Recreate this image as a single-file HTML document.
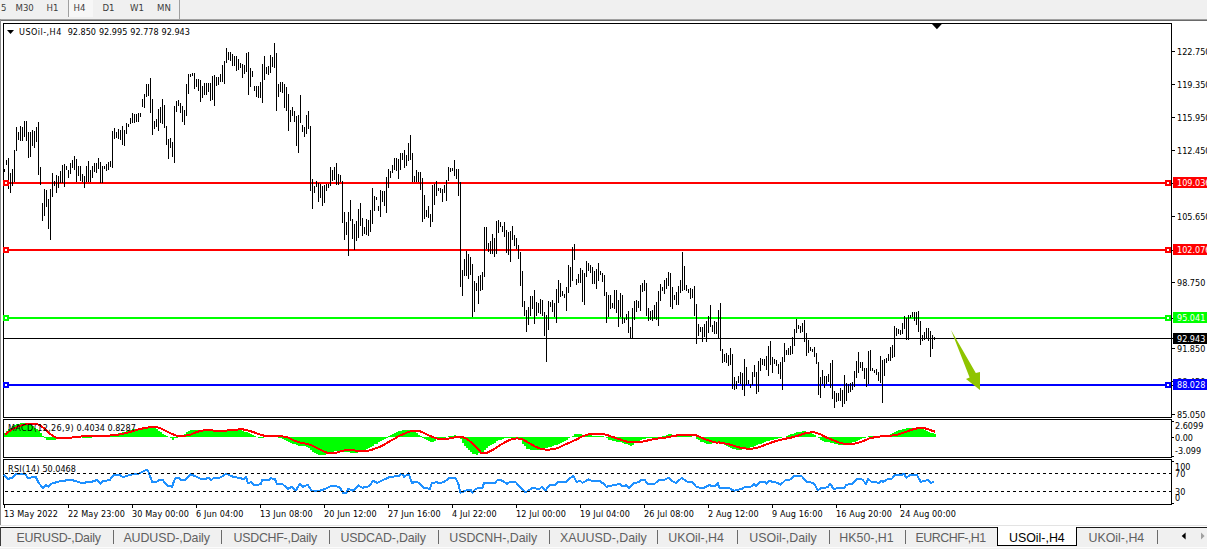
<!DOCTYPE html><html><head><meta charset="utf-8"><title>USOil-,H4</title><style>
html,body{margin:0;padding:0;background:#fff;}
body{width:1207px;height:549px;position:relative;overflow:hidden;font-family:"Liberation Sans",sans-serif;}
#tb{position:absolute;left:0;top:0;width:1207px;height:19px;background:#f0f0f0;}
.tbt{position:absolute;top:1px;font-family:"DejaVu Sans Condensed","DejaVu Sans","Liberation Sans",sans-serif;font-stretch:condensed;font-size:9.5px;line-height:13px;color:#3c3c3c;white-space:nowrap;}
#l19{position:absolute;left:0;top:19px;width:1207px;height:1px;background:#a0a0a0;}
#l20{position:absolute;left:0;top:20px;width:1207px;height:1px;background:#696969;}
#lv{position:absolute;left:0;top:19px;width:1px;height:507px;background:#8c8c8c;}
svg{position:absolute;left:0;top:0;}
.t{position:absolute;font-family:"DejaVu Sans Condensed","DejaVu Sans","Liberation Sans",sans-serif;font-stretch:condensed;font-size:9px;line-height:11px;color:#000;white-space:nowrap;}
.w{color:#fff;}
#tabs{position:absolute;left:0;top:527px;width:1207px;height:22px;background:#f0f0f0;}
#tabline{position:absolute;left:0;top:527px;width:1207px;height:1px;background:#1a1a1a;}
#l525{position:absolute;left:0;top:525px;width:1207px;height:1px;background:#e3e3e3;}
.tab{position:absolute;top:530.6px;font-size:12.4px;line-height:14px;color:#606060;white-space:nowrap;}
.sep{position:absolute;top:530px;width:1px;height:14px;background:#6a6a6a;}
#act{position:absolute;left:997px;top:527px;width:78px;height:18px;background:#fff;border:1px solid #000;border-top:none;}
</style></head><body>
<div id="tb"></div>
<div style="position:absolute;left:68px;top:0;width:1px;height:17px;background:#a0a0a0"></div>
<div style="position:absolute;left:69px;top:0;width:24px;height:17px;background:#f7f7f7"></div>
<div style="position:absolute;left:179px;top:0;width:1px;height:19px;background:#a0a0a0"></div>
<div class="tbt" style="left:1px">5</div>
<div class="tbt" style="left:15.5px">M30</div>
<div class="tbt" style="left:46.5px">H1</div>
<div class="tbt" style="left:73.5px">H4</div>
<div class="tbt" style="left:102.5px">D1</div>
<div class="tbt" style="left:130px">W1</div>
<div class="tbt" style="left:157px">MN</div>
<div id="l19"></div><div id="l20"></div><div id="lv"></div>
<svg width="1207" height="549" viewBox="0 0 1207 549"><g shape-rendering="crispEdges">
<rect x="4" y="182" width="1167" height="2" fill="#ff0000"/>
<rect x="4" y="249" width="1167" height="2" fill="#ff0000"/>
<rect x="4" y="317" width="1167" height="2" fill="#00ff00"/>
<rect x="4" y="384" width="1167" height="2" fill="#0000ff"/>
<rect x="4" y="338" width="1167" height="1" fill="#000000"/>
<path d="M4 169v3h1v-3zM6 160v5h1v-5zM8 158v31h1v-31zM10 173v20h1v-20zM12 169v17h1v-17zM14 150v32h1v-32zM16 127v24h1v-24zM18 132v8h1v-8zM20 126v15h1v-15zM22 127v14h1v-14zM24 121v16h1v-16zM26 121v20h1v-20zM28 132v26h1v-26zM30 132v25h1v-25zM32 130v16h1v-16zM34 131v17h1v-17zM36 127v15h1v-15zM38 122v53h1v-53zM40 167v18h1v-18zM42 203v18h1v-18zM44 189v27h1v-27zM46 190v17h1v-17zM48 199v30h1v-30zM50 189v51h1v-51zM52 173v24h1v-24zM54 181v5h1v-5zM56 175v18h1v-18zM58 176v12h1v-12zM60 171v12h1v-12zM62 165v18h1v-18zM64 164v23h1v-23zM66 166v4h1v-4zM68 170v8h1v-8zM70 163v11h1v-11zM72 160v8h1v-8zM74 156v14h1v-14zM76 159v23h1v-23zM78 166v10h1v-10zM80 166v15h1v-15zM82 174v8h1v-8zM84 176v12h1v-12zM86 166v16h1v-16zM88 161v21h1v-21zM90 170v12h1v-12zM92 166v12h1v-12zM94 163v9h1v-9zM96 163v10h1v-10zM98 158v11h1v-11zM100 162v21h1v-21zM102 166v17h1v-17zM104 166v3h1v-3zM106 164v7h1v-7zM108 162v8h1v-8zM110 161v6h1v-6zM112 131v37h1v-37zM114 128v11h1v-11zM116 132v6h1v-6zM118 129v10h1v-10zM120 130v10h1v-10zM122 126v19h1v-19zM124 130v16h1v-16zM126 123v11h1v-11zM128 124v3h1v-3zM130 118v6h1v-6zM132 113v10h1v-10zM134 114v9h1v-9zM136 114v8h1v-8zM138 113v9h1v-9zM140 113v4h1v-4zM142 99v8h1v-8zM144 94v14h1v-14zM146 84v13h1v-13zM148 84v12h1v-12zM150 78v35h1v-35zM152 99v36h1v-36zM154 121v8h1v-8zM156 119v8h1v-8zM158 109v22h1v-22zM160 107v16h1v-16zM162 99v25h1v-25zM164 105v23h1v-23zM166 126v19h1v-19zM168 139v20h1v-20zM170 138v10h1v-10zM172 142v15h1v-15zM174 106v57h1v-57zM176 101v11h1v-11zM178 100v6h1v-6zM180 103v10h1v-10zM182 106v16h1v-16zM184 110v15h1v-15zM186 84v32h1v-32zM188 74v20h1v-20zM190 74v3h1v-3zM192 73v3h1v-3zM194 73v16h1v-16zM196 79v8h1v-8zM198 79v12h1v-12zM200 80v22h1v-22zM202 86v12h1v-12zM204 83v12h1v-12zM206 83v12h1v-12zM208 83v9h1v-9zM210 83v18h1v-18zM212 76v24h1v-24zM214 75v31h1v-31zM216 77v9h1v-9zM218 77v8h1v-8zM220 74v8h1v-8zM222 65v17h1v-17zM224 61v23h1v-23zM226 48v15h1v-15zM228 52v8h1v-8zM230 52v9h1v-9zM232 54v12h1v-12zM234 56v10h1v-10zM236 56v15h1v-15zM238 59v11h1v-11zM240 63v5h1v-5zM242 64v14h1v-14zM244 65v9h1v-9zM246 53v19h1v-19zM248 52v43h1v-43zM250 68v19h1v-19zM252 71v6h1v-6zM254 86v5h1v-5zM256 86v11h1v-11zM258 86v12h1v-12zM260 82v16h1v-16zM262 64v39h1v-39zM264 56v24h1v-24zM266 67v7h1v-7zM268 66v9h1v-9zM270 55v18h1v-18zM272 57v10h1v-10zM274 43v25h1v-25zM276 53v58h1v-58zM278 84v13h1v-13zM280 82v10h1v-10zM282 82v11h1v-11zM284 84v24h1v-24zM286 87v24h1v-24zM288 94v37h1v-37zM290 110v12h1v-12zM292 107v9h1v-9zM294 111v11h1v-11zM296 116v30h1v-30zM298 115v38h1v-38zM300 95v28h1v-28zM302 125v7h1v-7zM304 127v10h1v-10zM306 115v19h1v-19zM308 111v18h1v-18zM310 126v65h1v-65zM312 179v30h1v-30zM314 186v7h1v-7zM316 181v6h1v-6zM318 183v19h1v-19zM320 184v14h1v-14zM322 186v20h1v-20zM324 185v18h1v-18zM326 184v7h1v-7zM328 184v4h1v-4zM330 167v19h1v-19zM332 170v11h1v-11zM334 167v13h1v-13zM336 163v22h1v-22zM338 174v11h1v-11zM340 175v7h1v-7zM342 181v42h1v-42zM344 212v28h1v-28zM346 222v13h1v-13zM348 212v44h1v-44zM350 200v21h1v-21zM352 219v20h1v-20zM354 224v26h1v-26zM356 221v20h1v-20zM358 209v29h1v-29zM360 203v23h1v-23zM362 218v18h1v-18zM364 227v7h1v-7zM366 219v16h1v-16zM368 220v16h1v-16zM370 210v22h1v-22zM372 188v36h1v-36zM374 196v15h1v-15zM376 197v3h1v-3zM378 206v5h1v-5zM380 190v27h1v-27zM382 191v11h1v-11zM384 191v15h1v-15zM386 177v36h1v-36zM388 169v19h1v-19zM390 171v7h1v-7zM392 165v8h1v-8zM394 158v12h1v-12zM396 158v13h1v-13zM398 159v20h1v-20zM400 153v17h1v-17zM402 153v7h1v-7zM404 150v18h1v-18zM406 155v11h1v-11zM408 143v18h1v-18zM410 135v25h1v-25zM412 153v29h1v-29zM414 176v6h1v-6zM416 170v12h1v-12zM418 172v10h1v-10zM420 172v18h1v-18zM422 178v44h1v-44zM424 195v24h1v-24zM426 210v7h1v-7zM428 206v12h1v-12zM430 214v13h1v-13zM432 185v37h1v-37zM434 184v21h1v-21zM436 181v15h1v-15zM438 188v3h1v-3zM440 188v5h1v-5zM442 189v13h1v-13zM444 185v8h1v-8zM446 180v21h1v-21zM448 167v14h1v-14zM450 168v4h1v-4zM452 168v3h1v-3zM454 160v16h1v-16zM456 169v10h1v-10zM458 169v27h1v-27zM460 182v105h1v-105zM462 270v26h1v-26zM464 259v17h1v-17zM466 251v25h1v-25zM468 254v25h1v-25zM470 257v18h1v-18zM472 264v53h1v-53zM474 281v31h1v-31zM476 283v8h1v-8zM478 276v28h1v-28zM480 275v16h1v-16zM482 272v18h1v-18zM484 227v50h1v-50zM486 227v22h1v-22zM488 243v9h1v-9zM490 241v13h1v-13zM492 234v20h1v-20zM494 238v19h1v-19zM496 221v33h1v-33zM498 220v13h1v-13zM500 222v5h1v-5zM502 226v6h1v-6zM504 222v15h1v-15zM506 230v23h1v-23zM508 232v23h1v-23zM510 231v31h1v-31zM512 226v14h1v-14zM514 235v11h1v-11zM516 238v11h1v-11zM518 245v14h1v-14zM520 252v34h1v-34zM522 271v36h1v-36zM524 301v15h1v-15zM526 310v22h1v-22zM528 307v18h1v-18zM530 296v20h1v-20zM532 296v13h1v-13zM534 290v34h1v-34zM536 302v14h1v-14zM538 303v10h1v-10zM540 299v15h1v-15zM542 300v16h1v-16zM544 312v24h1v-24zM546 315v47h1v-47zM548 301v29h1v-29zM550 302v5h1v-5zM552 300v12h1v-12zM554 303v14h1v-14zM556 289v34h1v-34zM558 280v23h1v-23zM560 283v14h1v-14zM562 291v5h1v-5zM564 294v4h1v-4zM566 287v24h1v-24zM568 265v28h1v-28zM570 267v20h1v-20zM572 247v34h1v-34zM574 244v16h1v-16zM576 279v6h1v-6zM578 274v9h1v-9zM580 268v15h1v-15zM582 270v32h1v-32zM584 273v32h1v-32zM586 261v16h1v-16zM588 263v8h1v-8zM590 265v8h1v-8zM592 267v17h1v-17zM594 271v13h1v-13zM596 269v20h1v-20zM598 263v18h1v-18zM600 271v4h1v-4zM602 273v9h1v-9zM604 275v21h1v-21zM606 292v31h1v-31zM608 295v22h1v-22zM610 295v14h1v-14zM612 303v5h1v-5zM614 290v19h1v-19zM616 290v23h1v-23zM618 300v27h1v-27zM620 293v24h1v-24zM622 295v29h1v-29zM624 318v5h1v-5zM626 314v6h1v-6zM628 311v22h1v-22zM630 327v11h1v-11zM632 308v30h1v-30zM634 301v19h1v-19zM636 300v12h1v-12zM638 301v7h1v-7zM640 285v26h1v-26zM642 283v9h1v-9zM644 280v11h1v-11zM646 283v33h1v-33zM648 308v13h1v-13zM650 311v9h1v-9zM652 310v11h1v-11zM654 305v14h1v-14zM656 302v18h1v-18zM658 291v35h1v-35zM660 284v17h1v-17zM662 287v4h1v-4zM664 280v14h1v-14zM666 278v11h1v-11zM668 272v14h1v-14zM670 273v34h1v-34zM672 287v22h1v-22zM674 295v5h1v-5zM676 292v13h1v-13zM678 286v19h1v-19zM680 280v13h1v-13zM682 252v39h1v-39zM684 266v24h1v-24zM686 285v6h1v-6zM688 289v4h1v-4zM690 288v11h1v-11zM692 289v9h1v-9zM694 286v30h1v-30zM696 304v40h1v-40zM698 324v12h1v-12zM700 327v5h1v-5zM702 327v15h1v-15zM704 324v13h1v-13zM706 321v21h1v-21zM708 316v17h1v-17zM710 305v22h1v-22zM712 325v7h1v-7zM714 321v13h1v-13zM716 322v12h1v-12zM718 310v28h1v-28zM720 303v48h1v-48zM722 349v14h1v-14zM724 354v8h1v-8zM726 353v10h1v-10zM728 355v11h1v-11zM730 348v17h1v-17zM732 354v35h1v-35zM734 377v13h1v-13zM736 381v8h1v-8zM738 376v7h1v-7zM740 372v12h1v-12zM742 373v17h1v-17zM744 359v37h1v-37zM746 367v18h1v-18zM748 380v4h1v-4zM750 384v4h1v-4zM752 372v13h1v-13zM754 365v12h1v-12zM756 372v22h1v-22zM758 361v31h1v-31zM760 358v13h1v-13zM762 359v6h1v-6zM764 359v7h1v-7zM766 356v14h1v-14zM768 346v30h1v-30zM770 341v24h1v-24zM772 357v16h1v-16zM774 359v5h1v-5zM776 360v6h1v-6zM778 364v10h1v-10zM780 362v17h1v-17zM782 357v33h1v-33zM784 343v19h1v-19zM786 350v5h1v-5zM788 348v7h1v-7zM790 346v9h1v-9zM792 337v17h1v-17zM794 329v17h1v-17zM796 319v14h1v-14zM798 325v4h1v-4zM800 326v7h1v-7zM802 323v9h1v-9zM804 320v22h1v-22zM806 333v23h1v-23zM808 340v13h1v-13zM810 347v4h1v-4zM812 349v3h1v-3zM814 347v10h1v-10zM816 353v11h1v-11zM818 362v33h1v-33zM820 377v21h1v-21zM822 370v14h1v-14zM824 376v12h1v-12zM826 376v8h1v-8zM828 374v8h1v-8zM830 363v25h1v-25zM832 360v39h1v-39zM834 391v17h1v-17zM836 393v9h1v-9zM838 393v8h1v-8zM840 388v13h1v-13zM842 390v17h1v-17zM844 375v29h1v-29zM846 383v18h1v-18zM848 384v9h1v-9zM850 383v9h1v-9zM852 382v8h1v-8zM854 371v16h1v-16zM856 361v17h1v-17zM858 352v21h1v-21zM860 362v6h1v-6zM862 362v9h1v-9zM864 368v11h1v-11zM866 368v19h1v-19zM868 351v33h1v-33zM870 350v21h1v-21zM872 368v3h1v-3zM874 370v3h1v-3zM876 369v6h1v-6zM878 372v9h1v-9zM880 356v27h1v-27zM882 360v43h1v-43zM884 359v17h1v-17zM886 358v5h1v-5zM888 354v7h1v-7zM890 347v14h1v-14zM892 345v13h1v-13zM894 326v31h1v-31zM896 328v8h1v-8zM898 329v5h1v-5zM900 330v5h1v-5zM902 323v11h1v-11zM904 316v13h1v-13zM906 318v22h1v-22zM908 315v25h1v-25zM910 315v3h1v-3zM912 312v5h1v-5zM914 312v9h1v-9zM916 312v13h1v-13zM918 311v21h1v-21zM920 321v24h1v-24zM922 335v6h1v-6zM924 332v8h1v-8zM926 328v11h1v-11zM928 328v13h1v-13zM930 331v26h1v-26zM932 335v14h1v-14zM934 337v3h1v-3z" fill="#000"/>
<rect x="3" y="23" width="1169" height="1" fill="#000"/>
<rect x="3" y="417" width="1169" height="1" fill="#000"/>
<rect x="3" y="23" width="1" height="395" fill="#000"/>
<rect x="1171" y="23" width="1" height="395" fill="#000"/>
<rect x="3" y="419" width="1169" height="1" fill="#000"/>
<rect x="3" y="457" width="1169" height="1" fill="#000"/>
<rect x="3" y="419" width="1" height="39" fill="#000"/>
<rect x="1171" y="419" width="1" height="39" fill="#000"/>
<rect x="3" y="459" width="1169" height="1" fill="#000"/>
<rect x="3" y="504" width="1169" height="1" fill="#000"/>
<rect x="3" y="459" width="1" height="46" fill="#000"/>
<rect x="1171" y="459" width="1" height="46" fill="#000"/>
<rect x="1172" y="51" width="3" height="1" fill="#000"/>
<rect x="1172" y="84" width="3" height="1" fill="#000"/>
<rect x="1172" y="117" width="3" height="1" fill="#000"/>
<rect x="1172" y="150" width="3" height="1" fill="#000"/>
<rect x="1172" y="216" width="3" height="1" fill="#000"/>
<rect x="1172" y="282" width="3" height="1" fill="#000"/>
<rect x="1172" y="348" width="3" height="1" fill="#000"/>
<rect x="1172" y="381" width="3" height="1" fill="#000"/>
<rect x="1172" y="414" width="3" height="1" fill="#000"/>
<rect x="1172" y="421" width="2" height="1" fill="#000"/>
<rect x="1172" y="437" width="2" height="1" fill="#000"/>
<rect x="1172" y="456" width="2" height="1" fill="#000"/>
<rect x="1172" y="461" width="2" height="1" fill="#000"/>
<rect x="1172" y="503" width="2" height="1" fill="#000"/>
<rect x="1172" y="183" width="1" height="1" fill="#000"/>
<rect x="1172" y="250" width="1" height="1" fill="#000"/>
<rect x="1172" y="318" width="1" height="1" fill="#000"/>
<rect x="1172" y="338" width="1" height="1" fill="#000"/>
<rect x="1172" y="385" width="1" height="1" fill="#000"/>
<rect x="4" y="505" width="1" height="3" fill="#000"/>
<rect x="68" y="505" width="1" height="3" fill="#000"/>
<rect x="132" y="505" width="1" height="3" fill="#000"/>
<rect x="196" y="505" width="1" height="3" fill="#000"/>
<rect x="260" y="505" width="1" height="3" fill="#000"/>
<rect x="324" y="505" width="1" height="3" fill="#000"/>
<rect x="388" y="505" width="1" height="3" fill="#000"/>
<rect x="452" y="505" width="1" height="3" fill="#000"/>
<rect x="516" y="505" width="1" height="3" fill="#000"/>
<rect x="580" y="505" width="1" height="3" fill="#000"/>
<rect x="644" y="505" width="1" height="3" fill="#000"/>
<rect x="708" y="505" width="1" height="3" fill="#000"/>
<rect x="772" y="505" width="1" height="3" fill="#000"/>
<rect x="836" y="505" width="1" height="3" fill="#000"/>
<rect x="900" y="505" width="1" height="3" fill="#000"/>
<rect x="3" y="180" width="6" height="6" fill="#ff0000"/><rect x="5" y="182" width="2" height="2" fill="#fff"/>
<rect x="1165" y="180" width="6" height="6" fill="#ff0000"/><rect x="1167" y="182" width="2" height="2" fill="#fff"/>
<rect x="3" y="247" width="6" height="6" fill="#ff0000"/><rect x="5" y="249" width="2" height="2" fill="#fff"/>
<rect x="1165" y="247" width="6" height="6" fill="#ff0000"/><rect x="1167" y="249" width="2" height="2" fill="#fff"/>
<rect x="3" y="315" width="6" height="6" fill="#00ff00"/><rect x="5" y="317" width="2" height="2" fill="#fff"/>
<rect x="1165" y="315" width="6" height="6" fill="#00ff00"/><rect x="1167" y="317" width="2" height="2" fill="#fff"/>
<rect x="3" y="382" width="6" height="6" fill="#0000ff"/><rect x="5" y="384" width="2" height="2" fill="#fff"/>
<rect x="1165" y="382" width="6" height="6" fill="#0000ff"/><rect x="1167" y="384" width="2" height="2" fill="#fff"/>
<path d="M4 433h2v4h-2zM6 431h2v6h-2zM8 429h2v8h-2zM10 428h2v9h-2zM12 426h2v11h-2zM14 425h2v12h-2zM16 424h2v13h-2zM18 424h2v13h-2zM20 423h2v14h-2zM22 423h2v14h-2zM24 423h2v14h-2zM26 424h2v13h-2zM28 424h2v13h-2zM30 425h2v12h-2zM32 426h2v11h-2zM34 428h2v9h-2zM36 429h2v8h-2zM38 431h2v6h-2zM40 433h2v4h-2zM42 436h2v1h-2zM44 437h2v1h-2zM46 437h2v3h-2zM48 437h2v3h-2zM50 437h2v3h-2zM52 437h2v3h-2zM54 437h2v3h-2zM56 437h2v2h-2zM58 437h2v1h-2zM60 437h2v1h-2zM62 437h2v1h-2zM64 437h2v1h-2zM82 437h2v1h-2zM84 437h2v1h-2zM86 437h2v1h-2zM88 437h2v1h-2zM90 437h2v1h-2zM98 436h2v1h-2zM100 436h2v1h-2zM102 436h2v1h-2zM104 436h2v1h-2zM106 436h2v1h-2zM108 435h2v2h-2zM110 435h2v2h-2zM112 435h2v2h-2zM114 434h2v3h-2zM116 434h2v3h-2zM118 433h2v4h-2zM120 433h2v4h-2zM122 432h2v5h-2zM124 432h2v5h-2zM126 431h2v6h-2zM128 430h2v7h-2zM130 430h2v7h-2zM132 429h2v8h-2zM134 429h2v8h-2zM136 429h2v8h-2zM138 428h2v9h-2zM140 428h2v9h-2zM142 427h2v10h-2zM144 427h2v10h-2zM146 427h2v10h-2zM148 426h2v11h-2zM150 427h2v10h-2zM152 427h2v10h-2zM154 428h2v9h-2zM156 429h2v8h-2zM158 431h2v6h-2zM160 432h2v5h-2zM162 434h2v3h-2zM164 435h2v2h-2zM166 436h2v1h-2zM170 437h2v1h-2zM172 437h2v3h-2zM174 437h2v1h-2zM176 437h2v1h-2zM180 436h2v1h-2zM182 435h2v2h-2zM184 434h2v3h-2zM186 432h2v5h-2zM188 431h2v6h-2zM190 430h2v7h-2zM192 430h2v7h-2zM194 430h2v7h-2zM196 430h2v7h-2zM198 430h2v7h-2zM200 430h2v7h-2zM202 430h2v7h-2zM204 430h2v7h-2zM206 430h2v7h-2zM208 430h2v7h-2zM210 430h2v7h-2zM212 430h2v7h-2zM214 430h2v7h-2zM216 430h2v7h-2zM218 430h2v7h-2zM220 430h2v7h-2zM222 430h2v7h-2zM224 430h2v7h-2zM226 430h2v7h-2zM228 430h2v7h-2zM230 430h2v7h-2zM232 430h2v7h-2zM234 429h2v8h-2zM236 429h2v8h-2zM238 429h2v8h-2zM240 430h2v7h-2zM242 431h2v6h-2zM244 432h2v5h-2zM246 432h2v5h-2zM248 433h2v4h-2zM250 434h2v3h-2zM252 435h2v2h-2zM254 436h2v1h-2zM258 437h2v1h-2zM260 437h2v1h-2zM262 437h2v1h-2zM274 435h2v2h-2zM278 437h2v1h-2zM280 437h2v1h-2zM282 437h2v2h-2zM284 437h2v3h-2zM286 437h2v4h-2zM288 437h2v5h-2zM290 437h2v6h-2zM292 437h2v7h-2zM294 437h2v7h-2zM296 437h2v8h-2zM298 437h2v9h-2zM300 437h2v9h-2zM302 437h2v9h-2zM304 437h2v9h-2zM306 437h2v10h-2zM308 437h2v11h-2zM310 437h2v13h-2zM312 437h2v15h-2zM314 437h2v16h-2zM316 437h2v17h-2zM318 437h2v18h-2zM320 437h2v18h-2zM322 437h2v18h-2zM324 437h2v18h-2zM326 437h2v17h-2zM328 437h2v17h-2zM330 437h2v16h-2zM332 437h2v15h-2zM334 437h2v14h-2zM336 437h2v14h-2zM338 437h2v14h-2zM340 437h2v14h-2zM342 437h2v14h-2zM344 437h2v15h-2zM346 437h2v15h-2zM348 437h2v15h-2zM350 437h2v16h-2zM352 437h2v16h-2zM354 437h2v16h-2zM356 437h2v16h-2zM358 437h2v15h-2zM360 437h2v14h-2zM362 437h2v13h-2zM364 437h2v13h-2zM366 437h2v12h-2zM368 437h2v11h-2zM370 437h2v10h-2zM372 437h2v9h-2zM374 437h2v7h-2zM376 437h2v7h-2zM378 437h2v5h-2zM380 437h2v4h-2zM382 437h2v3h-2zM384 437h2v2h-2zM386 437h2v1h-2zM388 436h2v1h-2zM390 435h2v2h-2zM392 434h2v3h-2zM394 433h2v4h-2zM396 432h2v5h-2zM398 431h2v6h-2zM400 431h2v6h-2zM402 430h2v7h-2zM404 430h2v7h-2zM406 430h2v7h-2zM408 430h2v7h-2zM410 430h2v7h-2zM412 430h2v7h-2zM414 432h2v5h-2zM416 433h2v4h-2zM418 435h2v2h-2zM420 436h2v1h-2zM422 437h2v1h-2zM424 437h2v2h-2zM426 437h2v3h-2zM428 437h2v4h-2zM430 437h2v5h-2zM432 437h2v5h-2zM434 437h2v4h-2zM436 437h2v2h-2zM438 437h2v2h-2zM440 437h2v1h-2zM442 437h2v1h-2zM444 437h2v1h-2zM448 436h2v1h-2zM450 436h2v1h-2zM452 436h2v1h-2zM454 435h2v2h-2zM456 436h2v1h-2zM460 437h2v2h-2zM462 437h2v6h-2zM464 437h2v9h-2zM466 437h2v11h-2zM468 437h2v13h-2zM470 437h2v15h-2zM472 437h2v17h-2zM474 437h2v17h-2zM476 437h2v18h-2zM478 437h2v16h-2zM480 437h2v17h-2zM482 437h2v15h-2zM484 437h2v13h-2zM486 437h2v11h-2zM488 437h2v9h-2zM490 437h2v8h-2zM492 437h2v7h-2zM494 437h2v6h-2zM496 437h2v4h-2zM498 437h2v3h-2zM500 437h2v3h-2zM502 437h2v2h-2zM504 437h2v1h-2zM506 437h2v1h-2zM508 437h2v1h-2zM510 437h2v1h-2zM512 437h2v1h-2zM514 437h2v1h-2zM516 437h2v1h-2zM518 437h2v2h-2zM520 437h2v3h-2zM522 437h2v7h-2zM524 437h2v9h-2zM526 437h2v12h-2zM528 437h2v12h-2zM530 437h2v13h-2zM532 437h2v13h-2zM534 437h2v13h-2zM536 437h2v13h-2zM538 437h2v13h-2zM540 437h2v12h-2zM542 437h2v12h-2zM544 437h2v11h-2zM546 437h2v11h-2zM548 437h2v10h-2zM550 437h2v10h-2zM552 437h2v9h-2zM554 437h2v8h-2zM556 437h2v8h-2zM558 437h2v7h-2zM560 437h2v6h-2zM562 437h2v5h-2zM564 437h2v4h-2zM566 437h2v3h-2zM568 437h2v1h-2zM572 436h2v1h-2zM574 434h2v3h-2zM576 434h2v3h-2zM578 434h2v3h-2zM580 434h2v3h-2zM582 435h2v2h-2zM584 435h2v2h-2zM586 435h2v2h-2zM588 435h2v2h-2zM590 435h2v2h-2zM592 436h2v1h-2zM594 436h2v1h-2zM596 436h2v1h-2zM598 436h2v1h-2zM600 436h2v1h-2zM602 436h2v1h-2zM606 437h2v1h-2zM608 437h2v3h-2zM610 437h2v3h-2zM612 437h2v4h-2zM614 437h2v4h-2zM616 437h2v5h-2zM618 437h2v5h-2zM620 437h2v5h-2zM622 437h2v6h-2zM624 437h2v7h-2zM626 437h2v7h-2zM628 437h2v8h-2zM630 437h2v9h-2zM632 437h2v8h-2zM634 437h2v6h-2zM636 437h2v5h-2zM638 437h2v4h-2zM640 437h2v3h-2zM642 437h2v2h-2zM644 437h2v2h-2zM646 437h2v1h-2zM648 437h2v1h-2zM650 437h2v1h-2zM652 437h2v1h-2zM654 437h2v1h-2zM656 437h2v1h-2zM658 437h2v1h-2zM662 436h2v1h-2zM664 436h2v1h-2zM666 435h2v2h-2zM668 434h2v3h-2zM670 434h2v3h-2zM672 435h2v2h-2zM674 435h2v2h-2zM676 435h2v2h-2zM678 435h2v2h-2zM680 436h2v1h-2zM682 436h2v1h-2zM684 436h2v1h-2zM686 436h2v1h-2zM688 436h2v1h-2zM690 436h2v1h-2zM696 437h2v2h-2zM698 437h2v3h-2zM700 437h2v5h-2zM702 437h2v5h-2zM704 437h2v6h-2zM706 437h2v7h-2zM708 437h2v7h-2zM710 437h2v7h-2zM712 437h2v6h-2zM714 437h2v6h-2zM716 437h2v6h-2zM718 437h2v6h-2zM720 437h2v7h-2zM722 437h2v7h-2zM724 437h2v8h-2zM726 437h2v9h-2zM728 437h2v10h-2zM730 437h2v11h-2zM732 437h2v12h-2zM734 437h2v12h-2zM736 437h2v13h-2zM738 437h2v13h-2zM740 437h2v13h-2zM742 437h2v12h-2zM744 437h2v12h-2zM746 437h2v11h-2zM748 437h2v11h-2zM750 437h2v10h-2zM752 437h2v10h-2zM754 437h2v9h-2zM756 437h2v8h-2zM758 437h2v7h-2zM760 437h2v7h-2zM762 437h2v6h-2zM764 437h2v5h-2zM766 437h2v4h-2zM768 437h2v4h-2zM770 437h2v3h-2zM772 437h2v3h-2zM774 437h2v2h-2zM776 437h2v2h-2zM778 437h2v1h-2zM780 437h2v1h-2zM786 436h2v1h-2zM788 435h2v2h-2zM790 434h2v3h-2zM792 434h2v3h-2zM794 433h2v4h-2zM796 432h2v5h-2zM798 432h2v5h-2zM800 432h2v5h-2zM802 431h2v6h-2zM804 431h2v6h-2zM806 432h2v5h-2zM808 432h2v5h-2zM810 433h2v4h-2zM812 434h2v3h-2zM814 435h2v2h-2zM818 437h2v1h-2zM820 437h2v3h-2zM822 437h2v4h-2zM824 437h2v5h-2zM826 437h2v5h-2zM828 437h2v5h-2zM830 437h2v6h-2zM832 437h2v6h-2zM834 437h2v7h-2zM836 437h2v7h-2zM838 437h2v8h-2zM840 437h2v8h-2zM842 437h2v8h-2zM844 437h2v8h-2zM846 437h2v7h-2zM848 437h2v7h-2zM850 437h2v6h-2zM852 437h2v5h-2zM854 437h2v5h-2zM856 437h2v4h-2zM858 437h2v3h-2zM860 437h2v2h-2zM862 437h2v1h-2zM864 437h2v1h-2zM868 436h2v1h-2zM870 436h2v1h-2zM872 436h2v1h-2zM874 436h2v1h-2zM876 436h2v1h-2zM878 436h2v1h-2zM880 436h2v1h-2zM882 436h2v1h-2zM884 436h2v1h-2zM886 435h2v2h-2zM888 435h2v2h-2zM890 434h2v3h-2zM892 433h2v4h-2zM894 432h2v5h-2zM896 431h2v6h-2zM898 430h2v7h-2zM900 430h2v7h-2zM902 429h2v8h-2zM904 429h2v8h-2zM906 428h2v9h-2zM908 428h2v9h-2zM910 428h2v9h-2zM912 428h2v9h-2zM914 428h2v9h-2zM916 428h2v9h-2zM918 428h2v9h-2zM920 429h2v8h-2zM922 429h2v8h-2zM924 430h2v7h-2zM926 431h2v6h-2zM928 432h2v5h-2zM930 433h2v4h-2zM932 433h2v4h-2zM934 434h2v3h-2z" fill="#00ff00"/>
<polyline points="5,434.9 7,433.2 9,431.5 11,430.2 13,428.9 15,427.9 17,426.9 19,426.2 21,425.5 23,425.0 25,424.5 27,424.3 29,424.1 31,424.0 33,424.0 35,424.0 37,424.0 39,424.8 41,425.8 43,427.5 45,429.2 47,431.2 49,433.1 51,434.6 53,436.0 55,437.0 57,437.9 59,438.2 61,438.5 63,438.4 65,438.3 67,438.2 69,438.0 71,437.7 73,437.4 75,437.2 77,436.9 79,436.7 81,436.5 83,436.4 85,436.4 87,436.4 89,436.3 91,436.3 93,436.2 95,436.1 97,436.0 99,436.0 101,435.9 103,435.8 105,435.7 107,435.6 109,435.6 111,435.4 113,435.2 115,434.9 117,434.7 119,434.5 121,434.1 123,433.7 125,433.2 127,432.7 129,432.2 131,431.7 133,431.1 135,430.5 137,429.9 139,429.3 141,428.8 143,428.4 145,428.0 147,427.6 149,427.3 151,427.1 153,426.9 155,426.9 157,427.3 159,427.7 161,428.4 163,429.4 165,430.4 167,431.4 169,432.4 171,433.4 173,434.3 175,435.1 177,435.9 179,435.9 181,435.9 183,435.9 185,435.7 187,435.4 189,435.1 191,434.4 193,433.6 195,432.7 197,432.0 199,431.4 201,430.8 203,430.5 205,430.4 207,430.4 209,430.3 211,430.4 213,430.5 215,430.6 217,430.8 219,430.9 221,430.8 223,430.7 225,430.6 227,430.5 229,430.4 231,430.2 233,430.0 235,429.8 237,429.6 239,429.4 241,428.9 243,429.4 245,429.9 247,430.3 249,430.9 251,431.4 253,431.9 255,432.7 257,433.5 259,434.3 261,434.9 263,435.4 265,435.9 267,435.9 269,435.9 271,435.9 273,435.9 275,435.9 277,435.9 279,436.1 281,436.3 283,436.5 285,436.7 287,437.0 289,438.0 291,439.0 293,440.0 295,440.8 297,441.6 299,442.3 301,442.7 303,443.1 305,443.5 307,444.0 309,444.5 311,445.0 313,446.0 315,447.0 317,448.0 319,449.0 321,450.0 323,451.0 325,451.9 327,452.7 329,453.4 331,453.4 333,453.4 335,453.2 337,452.5 339,451.9 341,451.3 343,450.7 345,450.2 347,449.8 349,449.8 351,449.8 353,450.0 355,450.5 357,451.1 359,451.4 361,451.4 363,451.4 365,451.3 367,450.9 369,450.5 371,450.0 373,449.3 375,448.6 377,447.9 379,447.1 381,446.3 383,445.3 385,444.1 387,442.9 389,441.8 391,440.6 393,439.5 395,438.4 397,437.2 399,436.1 401,435.1 403,434.2 405,433.4 407,432.6 409,431.9 411,431.3 413,430.8 415,430.5 417,430.6 419,431.1 421,431.7 423,432.4 425,433.4 427,434.4 429,435.4 431,436.2 433,437.1 435,437.9 437,438.6 439,438.9 441,438.9 443,438.9 445,438.9 447,438.9 449,438.6 451,438.1 453,437.7 455,437.4 457,437.2 459,437.0 461,437.1 463,437.4 465,437.8 467,439.0 469,440.6 471,442.3 473,444.2 475,446.2 477,448.2 479,450.0 481,452.8 483,452.8 485,452.8 487,452.8 489,451.8 491,450.8 493,449.8 495,448.4 497,447.1 499,445.8 501,444.6 503,443.4 505,442.2 507,441.3 509,440.3 511,439.4 513,439.0 515,438.6 517,438.3 519,438.7 521,439.1 523,439.6 525,440.7 527,441.9 529,443.0 531,444.1 533,445.3 535,446.4 537,447.2 539,448.1 541,448.9 543,449.2 545,449.5 547,449.8 549,449.6 551,449.4 553,449.1 555,448.7 557,448.2 559,447.6 561,446.6 563,445.6 565,444.6 567,443.8 569,442.9 571,442.0 573,441.1 575,440.1 577,439.2 579,438.1 581,437.0 583,436.1 585,435.4 587,434.8 589,434.2 591,434.0 593,433.7 595,433.5 597,433.5 599,433.5 601,433.5 603,433.7 605,434.4 607,435.1 609,435.7 611,436.4 613,437.1 615,437.7 617,438.4 619,439.1 621,439.7 623,440.4 625,441.1 627,441.6 629,441.9 631,442.3 633,442.4 635,442.4 637,442.3 639,442.3 641,442.0 643,441.6 645,441.1 647,440.6 649,440.2 651,439.7 653,439.3 655,439.0 657,438.6 659,438.4 661,438.1 663,437.9 665,437.6 667,437.3 669,436.9 671,436.5 673,436.1 675,435.8 677,435.4 679,435.3 681,435.2 683,435.1 685,435.0 687,434.9 689,434.9 691,435.0 693,435.0 695,435.1 697,435.7 699,436.6 701,437.4 703,438.3 705,439.2 707,439.9 709,440.6 711,441.2 713,441.8 715,442.3 717,442.6 719,442.4 721,442.9 723,443.2 725,443.5 727,443.9 729,444.4 731,444.9 733,445.5 735,446.1 737,446.8 739,447.4 741,447.8 743,448.1 745,448.4 747,448.6 749,448.7 751,448.8 753,448.5 755,448.1 757,447.8 759,447.1 761,446.4 763,445.7 765,444.9 767,444.1 769,443.4 771,442.7 773,442.0 775,441.4 777,440.8 779,440.3 781,439.8 783,439.3 785,438.9 787,438.4 789,438.0 791,437.6 793,437.2 795,436.6 797,436.0 799,435.3 801,434.7 803,434.0 805,433.4 807,433.0 809,432.6 811,432.3 813,432.3 815,432.5 817,433.2 819,433.8 821,434.6 823,435.7 825,436.7 827,437.7 829,438.5 831,439.3 833,440.1 835,440.9 837,441.7 839,442.4 841,443.0 843,443.5 845,443.8 847,443.8 849,443.8 851,443.8 853,443.7 855,443.5 857,443.2 859,442.5 861,441.9 863,441.1 865,440.2 867,439.4 869,438.6 871,438.1 873,437.6 875,437.2 877,436.9 879,436.6 881,436.4 883,436.2 885,436.0 887,435.8 889,435.7 891,435.6 893,435.3 895,435.0 897,434.7 899,434.2 901,433.5 903,432.8 905,432.1 907,431.4 909,430.7 911,430.0 913,429.4 915,428.8 917,428.4 919,428.2 921,428.0 923,428.2 925,428.4 927,428.9 929,429.6 931,430.3 933,431.0 935,431.7" fill="none" stroke="#ff0000" stroke-width="2"/>
<polyline points="4.0,474.9 8.0,478.9 11.9,477.9 16.9,473.5 24.9,473.9 27.8,477.9 35.8,476.9 38.8,482.9 42.8,488.2 45.7,484.8 48.7,486.8 51.7,483.5 61.6,480.9 71.6,479.9 81.5,482.9 91.5,481.9 97.4,479.9 100.4,483.8 103.4,480.9 109.4,480.3 113.3,475.5 119.3,474.9 123.3,477.3 129.2,474.9 139.2,473.5 146.1,469.9 148.1,470.9 152.1,481.9 157.1,481.5 159.1,479.5 163.0,480.3 167.0,485.4 172.0,486.8 175.0,478.5 178.0,477.5 181.9,480.3 184.9,480.3 190.9,474.3 198.8,477.9 202.8,479.5 208.8,477.9 210.8,480.5 213.8,477.9 220.7,477.5 226.7,473.5 231.6,476.3 238.6,477.9 240.0,477.9 244.0,479.5 246.0,476.9 248.0,483.5 250.9,481.9 253.9,484.8 260.9,484.4 262.3,479.5 268.8,480.3 270.8,478.3 274.8,478.9 276.8,483.8 281.8,483.5 287.7,488.8 291.7,486.8 295.7,490.8 299.7,483.8 302.6,486.8 307.6,484.8 311.6,490.8 319.5,490.8 325.5,488.8 331.5,485.8 339.4,486.8 343.4,493.4 346.4,492.8 348.4,488.8 353.3,490.8 358.3,485.4 362.3,487.8 369.2,486.2 373.2,480.9 377.2,482.9 383.2,479.9 390.1,476.9 399.1,475.9 402.1,473.5 404.0,476.9 408.6,473.5 412.0,482.9 417.0,481.5 423.9,487.8 429.9,488.8 431.9,482.9 436.9,482.3 438.8,482.9 443.8,482.3 449.8,477.5 455.7,478.3 458.7,484.8 460.3,492.8 466.7,490.2 470.7,489.8 472.2,492.8 475.6,488.8 479.2,487.8 480.0,487.8 482.4,487.8 484.0,482.9 494.9,482.9 497.9,479.5 502.9,480.9 506.8,483.8 509.8,481.9 515.8,482.3 519.8,486.8 524.7,491.8 527.7,491.4 531.7,488.2 539.7,488.8 541.6,486.8 545.6,490.2 549.6,484.8 554.6,485.4 558.5,481.9 565.5,482.3 569.5,478.3 573.5,475.9 576.4,481.9 580.4,480.9 582.4,482.9 588.4,479.5 593.3,481.5 599.3,480.9 603.3,483.5 606.3,486.8 612.2,485.4 615.2,484.8 620.2,483.8 622.2,486.2 626.1,485.4 629.1,487.8 633.1,483.5 639.1,481.9 642.1,479.5 645.0,480.3 648.0,484.2 655.0,483.5 659.0,479.9 664.9,479.5 668.9,477.5 671.9,480.9 675.9,482.9 681.8,477.9 686.8,481.5 692.8,482.3 696.7,487.4 703.7,487.8 708.7,485.4 715.6,485.8 717.6,482.9 719.4,487.8 720.0,488.2 728.9,487.8 733.9,490.8 741.9,488.8 744.9,486.8 749.8,487.4 753.8,484.2 755.8,486.2 759.8,482.3 764.7,481.9 766.7,483.8 768.7,480.9 777.7,482.9 780.6,484.8 785.6,479.9 790.6,479.5 793.6,476.3 801.5,475.9 806.5,481.5 812.5,482.9 815.4,485.8 817.8,490.2 821.4,487.8 827.4,487.4 830.4,483.8 833.3,488.8 844.3,487.8 846.3,484.8 852.2,483.8 857.2,478.5 862.2,479.5 866.1,483.8 868.1,478.9 871.1,481.5 879.1,482.9 881.5,480.9 883.0,481.9 888.0,478.9 892.0,478.5 895.0,474.9 900.9,475.5 903.9,473.5 906.5,477.9 909.9,474.9 916.9,474.9 920.8,481.9 927.8,479.9 930.8,482.9 934.3,481.5" fill="none" stroke="#1e90ff" stroke-width="2" stroke-linejoin="round"/>
<path d="M5 473.5H1171M5 491.5H1171" stroke="#000" stroke-width="1" stroke-dasharray="3 3" fill="none"/>
</g>
<polygon points="951,330 975.8,373 980,372 980,390 966,379 969.6,377.4" fill="#8fc400"/>
<polygon points="7,30 14,30 10.5,34" fill="#000"/>
<polygon points="932,24 941.8,24 936.9,29.2" fill="#000"/></svg>
<div class="t" style="left:19px;top:27px;word-spacing:.4px"><span style="letter-spacing:.45px">USOil-,H4</span>&nbsp; 92.850 92.995 92.778 92.943</div>
<div class="t" style="left:8px;top:423px"><span style="letter-spacing:.35px">MACD(12,26,9)</span> 0.4034 0.8287</div>
<div class="t" style="left:8px;top:464px"><span style="letter-spacing:.3px">RSI(14)</span> 50.0468</div>
<div class="t" style="left:1177px;top:47px">122.750</div>
<div class="t" style="left:1177px;top:80px">119.350</div>
<div class="t" style="left:1177px;top:113px">115.950</div>
<div class="t" style="left:1177px;top:146px">112.450</div>
<div class="t" style="left:1177px;top:212px">105.650</div>
<div class="t" style="left:1177px;top:278px">98.750</div>
<div class="t" style="left:1177px;top:344px">91.850</div>
<div class="t" style="left:1177px;top:377px">88.450</div>
<div class="t" style="left:1177px;top:410px">85.050</div>
<div class="t w" style="left:1173px;top:177px;width:30px;height:10px;padding-top:1px;padding-left:4px;background:#ff0000;overflow:hidden">109.036</div>
<div class="t w" style="left:1173px;top:244px;width:30px;height:10px;padding-top:1px;padding-left:4px;background:#ff0000;overflow:hidden">102.076</div>
<div class="t w" style="left:1173px;top:312px;width:30px;height:10px;padding-top:1px;padding-left:4px;background:#00ff00;overflow:hidden">95.041</div>
<div class="t w" style="left:1173px;top:333px;width:30px;height:10px;padding-top:1px;padding-left:4px;background:#000;overflow:hidden">92.943</div>
<div class="t w" style="left:1173px;top:379px;width:30px;height:10px;padding-top:1px;padding-left:4px;background:#0000ff;overflow:hidden">88.028</div>
<div class="t" style="left:1175px;top:421px">2.6099</div>
<div class="t" style="left:1175px;top:433px">0.00</div>
<div class="t" style="left:1175px;top:446px">-3.099</div>
<div class="t" style="left:1175px;top:462px">100</div>
<div class="t" style="left:1175px;top:469px">70</div>
<div class="t" style="left:1175px;top:487px">30</div>
<div class="t" style="left:1175px;top:493px">0</div>
<div class="t" style="left:4px;top:509px;letter-spacing:.12px">13 May 2022</div>
<div class="t" style="left:68px;top:509px;letter-spacing:.12px">22 May 23:00</div>
<div class="t" style="left:132px;top:509px;letter-spacing:.12px">30 May 00:00</div>
<div class="t" style="left:196px;top:509px;letter-spacing:.12px">6 Jun 04:00</div>
<div class="t" style="left:260px;top:509px;letter-spacing:.12px">13 Jun 08:00</div>
<div class="t" style="left:324px;top:509px;letter-spacing:.12px">20 Jun 12:00</div>
<div class="t" style="left:388px;top:509px;letter-spacing:.12px">27 Jun 16:00</div>
<div class="t" style="left:452px;top:509px;letter-spacing:.12px">4 Jul 22:00</div>
<div class="t" style="left:516px;top:509px;letter-spacing:.12px">12 Jul 00:00</div>
<div class="t" style="left:580px;top:509px;letter-spacing:.12px">19 Jul 04:00</div>
<div class="t" style="left:644px;top:509px;letter-spacing:.12px">26 Jul 08:00</div>
<div class="t" style="left:708px;top:509px;letter-spacing:.12px">2 Aug 12:00</div>
<div class="t" style="left:772px;top:509px;letter-spacing:.12px">9 Aug 16:00</div>
<div class="t" style="left:836px;top:509px;letter-spacing:.12px">16 Aug 20:00</div>
<div class="t" style="left:900px;top:509px;letter-spacing:.12px">24 Aug 00:00</div>
<div id="l525"></div><div id="tabs"></div><div id="tabline"></div>
<div style="position:absolute;left:0;top:527px;width:1px;height:19px;background:#3c3c3c"></div>
<div style="position:absolute;left:0;top:547px;width:1207px;height:1px;background:#fbfbfb"></div>
<div id="act"></div>
<div class="tab" style="left:16.6px;letter-spacing:-0.26px">EURUSD-,Daily</div>
<div class="tab" style="left:123.4px;letter-spacing:-0.07px">AUDUSD-,Daily</div>
<div class="tab" style="left:233.6px;letter-spacing:-0.27px">USDCHF-,Daily</div>
<div class="tab" style="left:340.4px;letter-spacing:-0.16px">USDCAD-,Daily</div>
<div class="tab" style="left:449.2px;letter-spacing:0px">USDCNH-,Daily</div>
<div class="tab" style="left:560px;letter-spacing:0px">XAUUSD-,Daily</div>
<div class="tab" style="left:668.2px;letter-spacing:0px">UKOil-,H4</div>
<div class="tab" style="left:749.3px;letter-spacing:0px">USOil-,Daily</div>
<div class="tab" style="left:839.3px;letter-spacing:0px">HK50-,H1</div>
<div class="tab" style="left:915.6px;letter-spacing:-0.5px">EURCHF-,H1</div>
<div class="tab" style="left:1088.5px;letter-spacing:0px">UKOil-,H4</div>
<div class="tab" style="left:1009px;color:#000">USOil-,H4</div>
<div class="sep" style="left:113px"></div>
<div class="sep" style="left:221px"></div>
<div class="sep" style="left:329px"></div>
<div class="sep" style="left:438px"></div>
<div class="sep" style="left:549px"></div>
<div class="sep" style="left:657px"></div>
<div class="sep" style="left:737px"></div>
<div class="sep" style="left:829px"></div>
<div class="sep" style="left:905px"></div>
<div class="sep" style="left:1157px"></div>
<svg width="30" height="12" style="left:1178px;top:530px" viewBox="0 0 30 12"><polygon points="3.7,6 7.6,2.6 7.6,9.4" fill="#000"/><polygon points="26.6,6 23,2.6 23,9.4" fill="#a0a0a0"/></svg>
</body></html>
